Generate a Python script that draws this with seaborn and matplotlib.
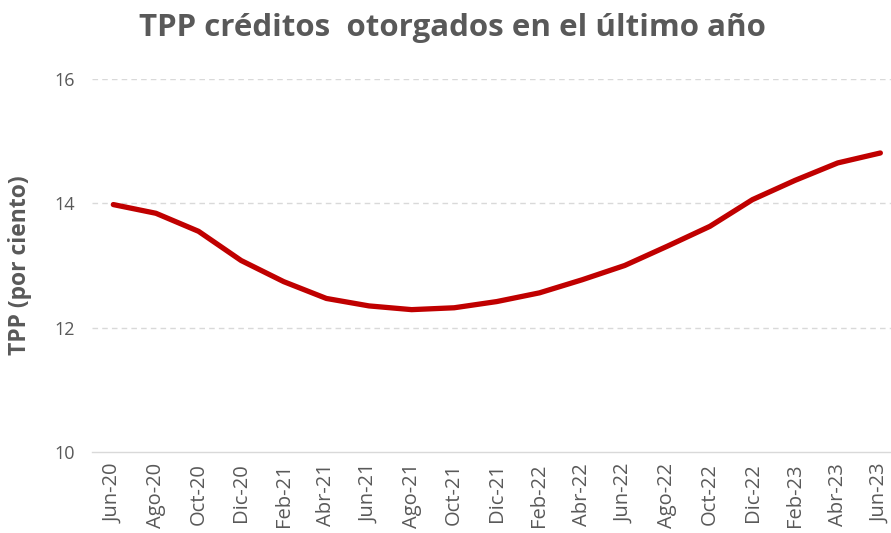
import matplotlib
matplotlib.use("Agg")
import matplotlib.pyplot as plt
import seaborn as sns
import pandas as pd

months = ["Jun-20", "Ago-20", "Oct-20", "Dic-20", "Feb-21", "Abr-21", "Jun-21", "Ago-21",
          "Oct-21", "Dic-21", "Feb-22", "Abr-22", "Jun-22", "Ago-22", "Oct-22", "Dic-22",
          "Feb-23", "Abr-23", "Jun-23"]
tpp = [13.98, 13.84, 13.55, 13.08, 12.74, 12.47, 12.35, 12.29, 12.32, 12.42, 12.56,
       12.77, 13.00, 13.31, 13.63, 14.06, 14.37, 14.65, 14.81]
yticks = [10, 12, 14, 16]

sns.set_theme(style="white")
plt.rcParams["font.family"] = ["Open Sans", "DejaVu Sans"]

df = pd.DataFrame({"pos": range(len(months)), "mes": months, "tpp": tpp})

fig = plt.figure(figsize=(8.91, 5.33), dpi=100)
ax = fig.add_axes([92/891, 81/533, (891-92)/891, (452-79)/533])

sns.lineplot(data=df, x="pos", y="tpp", ax=ax, color="#C00000", linewidth=3.8,
             sort=False, solid_capstyle="round", solid_joinstyle="round")

ax.set_ylim(10, 16)
ax.set_yticks(yticks)
ax.set_yticklabels([str(t) for t in yticks], fontsize=13, color="#595959")
ax.set_xlim(-0.5, 18.25)
ax.set_xticks(range(len(months)))
ax.set_xticklabels(months, rotation=90, fontsize=14.5, color="#595959")
ax.tick_params(axis="x", length=0, pad=8)
ax.tick_params(axis="y", length=0, pad=12)

for t in yticks[1:]:
    ax.axhline(t, color="#D9D9D9", linewidth=1.0, linestyle=(0, (4, 3)), zorder=0)

for s in ["top", "right", "left"]:
    ax.spines[s].set_visible(False)
ax.spines["bottom"].set_color("#D9D9D9")
ax.spines["bottom"].set_linewidth(1.0)

ax.set_xlabel("")
ax.set_ylabel("TPP (por ciento)", fontsize=16.5, fontweight="bold", color="#595959")
ax.yaxis.set_label_coords(-(92 - 20) / 799, 0.5)
ax.yaxis.label.set_va("center")

fig.text(452/891, 1 - 28/533, "TPP créditos  otorgados en el último año", ha="center", va="center",
         fontsize=22.5, fontweight="bold", color="#595959")

fig.savefig("out.png", dpi=100)
